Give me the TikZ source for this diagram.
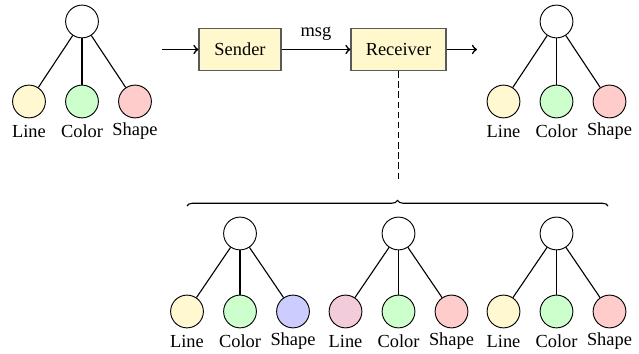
\documentclass[tikz,border=0pt]{standalone}
\usepackage{fontspec}
\setmainfont{Liberation Serif}
\usetikzlibrary{decorations.pathreplacing}
\definecolor{cline}{HTML}{FFF8D0}
\definecolor{ccolor}{HTML}{CCFFCC}
\definecolor{cshape}{HTML}{FFCCCC}
\definecolor{cblue}{HTML}{CCCCFF}
\definecolor{cpurple}{HTML}{F2CCDA}
\definecolor{boxfill}{HTML}{FFF8CC}
\tikzset{
  txt/.style={font=\rmfamily\fontsize{10}{12}\selectfont},
  circ/.style={circle,draw=black,line width=0.5pt,minimum size=17.8pt,inner sep=0pt},
  lab/.style={txt,inner sep=0pt},
  edge/.style={draw=black,line width=0.6pt},
  stepbox/.style={txt,draw=black!65,fill=boxfill,line width=0.6pt,minimum height=23pt,inner xsep=8pt},
  flow/.style={->,line width=0.9pt},
}
\newcommand{\mytree}[7]{%
  \node[circ] (#1r) at (#2,#3) {};
  \node[circ,fill=#5] (#1a) at (#2-53,#4) {};
  \node[circ,fill=#6] (#1b) at (#2,#4) {};
  \node[circ,fill=#7] (#1c) at (#2+53,#4) {};
  \node[lab] (#1la) at (#2-53,#4+30) {Line};
  \node[lab] (#1lb) at (#2,#4+30) {Color};
  \node[lab] (#1lc) at (#2+53,#4+30) {Shape};
  \draw[edge] (#1r) -- (#1a);
  \draw[edge] (#1r) -- (#1b);
  \draw[edge] (#1r) -- (#1c);
}
\begin{document}
\begin{tikzpicture}[x=0.543pt,y=-0.543pt,font=\rmfamily]
\useasboundingbox (0,0) rectangle (639,354);
\mytree{tl}{82}{21.5}{101.5}{cline}{ccolor}{cshape}
\mytree{tr}{556.5}{21.5}{101.5}{cline}{ccolor}{cshape}
\mytree{ba}{240}{233.5}{311.5}{cline}{ccolor}{cblue}
\mytree{bb}{398.5}{233.5}{311.5}{cpurple}{ccolor}{cshape}
\mytree{bc}{556.5}{233.5}{311.5}{cline}{ccolor}{cshape}

\node[stepbox,minimum width=82*0.543pt] (snd) at (240,49.5) {Sender};
\node[stepbox,minimum width=95*0.543pt] (rcv) at (398.5,49.5) {Receiver};
\coordinate (in) at (162,49.5);
\coordinate (out) at (477,49.5);
\draw[flow] (in) -- (snd);
\draw[flow] (snd) -- node[txt,above=1pt] (msg) {msg} (rcv);
\draw[flow] (rcv) -- (out);

\coordinate (bl) at (187,206);
\coordinate (br) at (608,206);
\coordinate (bt) at (398.5,182);
\draw[line width=0.6pt,decorate,decoration={brace,amplitude=3pt}] (bl) -- (br);
\draw[line width=0.6pt,dash pattern=on 3.5pt off 2pt] (rcv.south) -- (bt);
\end{tikzpicture}
\end{document}
